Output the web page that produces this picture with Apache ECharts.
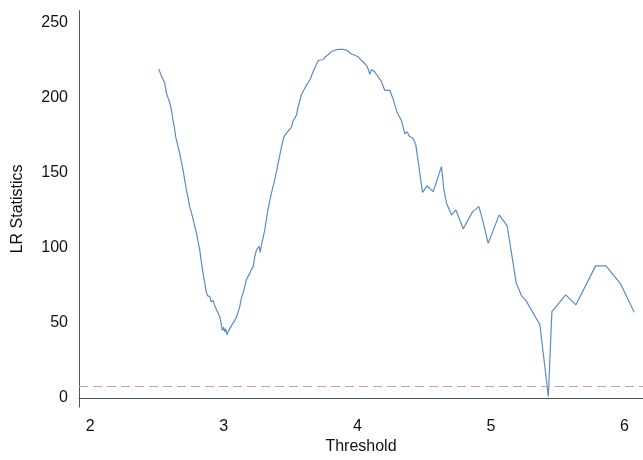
<!DOCTYPE html>
<html>
<head>
<meta charset="utf-8">
<script src="https://cdn.jsdelivr.net/npm/echarts@6/dist/echarts.min.js"></script>
<style>html,body{margin:0;padding:0;background:#fff}#c{width:643px;height:460px}</style>
</head>
<body>
<div id="c"></div>
<script>
const thresholds = [2.513,2.53,2.545,2.558,2.571,2.585,2.595,2.608,2.62,2.63,2.64,2.655,2.67,2.683,2.695,2.708,2.72,2.733,2.745,2.755,2.765,2.78,2.795,2.808,2.82,2.833,2.845,2.858,2.87,2.88,2.895,2.905,2.92,2.932,2.945,2.957,2.97,2.98,2.99,3.0,3.007,3.015,3.025,3.035,3.045,3.057,3.07,3.082,3.095,3.107,3.12,3.132,3.145,3.157,3.17,3.182,3.195,3.207,3.22,3.232,3.245,3.265,3.272,3.285,3.295,3.307,3.318,3.33,3.343,3.357,3.368,3.38,3.393,3.407,3.42,3.432,3.45,3.46,3.47,3.483,3.495,3.507,3.52,3.532,3.545,3.556,3.568,3.58,3.595,3.607,3.625,3.644,3.662,3.68,3.695,3.707,3.725,3.744,3.762,3.78,3.8,3.82,3.845,3.87,3.895,3.92,3.94,3.956,3.98,4.006,4.025,4.044,4.06,4.074,4.094,4.106,4.13,4.156,4.18,4.206,4.244,4.27,4.295,4.33,4.356,4.373,4.388,4.418,4.438,4.488,4.523,4.568,4.63,4.648,4.668,4.706,4.738,4.793,4.863,4.91,4.938,4.98,5.062,5.122,5.19,5.23,5.262,5.367,5.43,5.457,5.56,5.637,5.784,5.862,5.971,6.073];
const lrStats   = [219.3,215.5,212.5,209.8,203,199.5,197,192,185,180.5,174,168.5,163,157,152,145,139,133,127.5,124.5,121,115.5,110,104,98.7,90,83,76.5,70,68,67.5,64,65,61.5,58.7,56.5,54,50,45,47,44,46,42,44.5,45,48,50,51.5,54,57,61,66.5,70,74,79,81,83,85.5,87.5,94,98.7,101,97,103,107,112,118.5,125,131,136.5,140.5,145,150,156.5,162,167.5,174,175,176.5,178,178.7,180.5,185,186.5,188.7,194,197.5,202,204.5,206.5,209.5,212,216,219.8,222.5,225,225.3,225.5,227.5,228.7,230.5,231.5,232.2,232.5,232.4,232,230.5,229.3,228.5,227.5,225.5,224,222.5,221,215.8,219,217.5,214,211,205,205,198.7,191,185,176,177.5,174.7,173,168.7,137,141.3,137.5,154.2,138.7,129.8,122,125.3,112.7,124.2,127.5,118.7,103,122,114.7,76.5,68,65,48.7,0.9,57.5,68.7,62,88,88,76,57];
const criticalValue = 8;
const xTicks = [2,3,4,5,6];
const yTicks = [0,50,100,150,200,250];

const data = thresholds.map((x,i)=>[x, lrStats[i]]);
const chart = echarts.init(document.getElementById('c'), null, {renderer:'canvas'});
const font = 'Liberation Sans, Arial, Helvetica, sans-serif';
chart.setOption({
  animation:false,
  grid:{left:79, right:0, top:10.7, bottom:52.7, containLabel:false},
  xAxis:{
    type:'value', min:1.916, max:6.139,
    name:'Threshold', nameLocation:'middle', nameGap:27,
    nameTextStyle:{fontFamily:font, fontSize:16, color:'#111'},
    axisLine:{show:true, lineStyle:{color:'#555', width:1}},
    axisTick:{show:false},
    splitLine:{show:false},
    axisLabel:{customValues:xTicks, fontFamily:font, fontSize:16, color:'#111', margin:11}
  },
  yAxis:{
    type:'value', min:-6.2, max:258.2,
    name:'LR Statistics', nameLocation:'middle', nameGap:53, nameRotate:90,
    nameTextStyle:{fontFamily:font, fontSize:16, color:'#111'},
    axisLine:{show:true, lineStyle:{color:'#555', width:1}},
    axisTick:{show:false},
    splitLine:{show:false},
    axisLabel:{customValues:yTicks, fontFamily:font, fontSize:16, color:'#111', margin:11}
  },
  series:[{
    type:'line', data:data, showSymbol:false, symbol:'none',
    lineStyle:{color:'#5a8cc8', width:1.2},
    markLine:{
      silent:true, symbol:['none','none'], label:{show:false},
      lineStyle:{color:'#d09aa6', type:[9,5], width:1.2},
      data:[{yAxis:criticalValue}]
    }
  }]
});
</script>
</body>
</html>
